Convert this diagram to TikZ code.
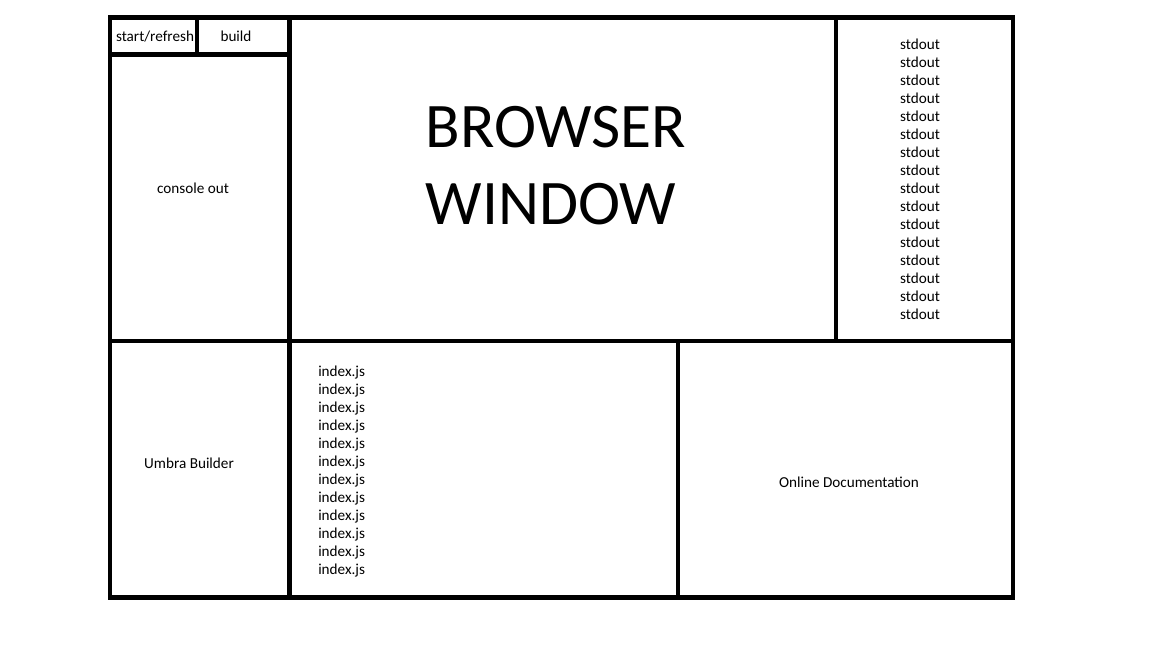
\documentclass[tikz,border=0pt]{standalone}
\usepackage{fontspec}
\setmainfont{Carlito}
\usepackage{tikz}

\begin{document}
\begin{tikzpicture}[x=1pt,y=-1pt,line width=4.5pt,
    label/.style={inner sep=0pt,font=\fontsize{15.2}{18}\selectfont},
    big/.style={inner sep=0pt,font=\fontsize{63.5}{77}\selectfont}]
  \useasboundingbox[fill=white] (0,0) rectangle (1152,648);
  % frame and panels
  \coordinate (tl) at (110,17.5);
  \coordinate (br) at (1013,597.5);
  \draw (tl) rectangle (br);
  \draw (289.5,17.5) -- (289.5,597.5);
  \draw (110,341) -- (1013,341);
  \draw (836,17.5) -- (836,341);
  \draw (678,341) -- (678,597.5);
  \draw (110,54.5) -- (289.5,54.5);
  \draw (197,17.5) -- (197,54.5);
  % labels
  \node[label] (start) at (155,37) {start/refresh};
  \node[label] (build) at (236,36) {build};
  \node[label] (console) at (193,188) {console out};
  \node[big] (browser) at (556,127) {BROWSER};
  \node[big] (window) at (551,204) {WINDOW};
  \foreach \i in {0,...,15}
    \node[label] (out\i) at (920,44+18*\i) {stdout};
  \foreach \i in {0,...,11}
    \node[label,anchor=west] (file\i) at (316,373+18*\i) {index.js};
  \node[label] (umbra) at (189,463) {Umbra Builder};
  \node[label] (docs) at (849,482) {Online Documentation};
\end{tikzpicture}
\end{document}
